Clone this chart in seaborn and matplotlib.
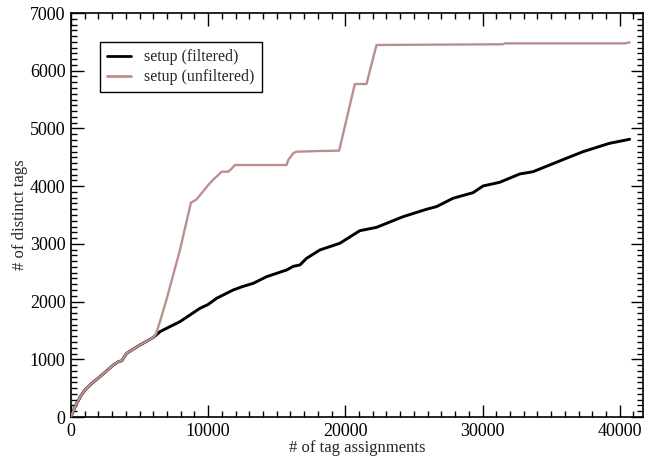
import numpy as np
import pandas as pd
import matplotlib
matplotlib.use("Agg")
import matplotlib.pyplot as plt
from matplotlib.ticker import MultipleLocator
import seaborn as sns

# ---- data ----
common_x = [0, 200, 415, 700, 1020, 1500, 2113, 2600, 3085, 3450, 3700, 3812, 4055,
            4500, 5030, 5500, 5998]
common_y = [0, 120, 233, 360, 468, 580, 698, 800, 901, 958, 975, 1016, 1103,
            1170, 1248, 1310, 1379]

filtered_tail_x = [6485, 6970, 7942, 8500, 9399, 10000, 10616, 11826, 12500, 13283,
                   14258, 15714, 16200, 16685, 17171, 18142, 19599, 21056, 22271,
                   24211, 25916, 26645, 27854, 29313, 30040, 31257, 32714, 33684,
                   36115, 37326, 39271, 40729]
filtered_tail_y = [1478, 1537, 1652, 1740, 1883, 1950, 2057, 2201, 2260, 2316,
                   2431, 2547, 2610, 2634, 2749, 2894, 3010, 3228, 3286,
                   3471, 3599, 3645, 3790, 3887, 4003, 4067, 4211, 4250,
                   4483, 4597, 4743, 4812]

unfiltered_tail_x = [6200, 6485, 6970, 7942, 8743, 9155, 9600, 10006, 10400, 10856,
                     10978, 11466, 11700, 11949, 15714, 15836, 16200, 16440, 18142,
                     19549, 20692, 21543, 22271, 31497, 31621, 40364, 40729]
unfiltered_tail_y = [1440, 1652, 2040, 2894, 3713, 3770, 3900, 4020, 4120, 4221,
                     4250, 4250, 4300, 4366, 4366, 4453, 4569, 4597, 4609,
                     4615, 5770, 5770, 6446, 6458, 6474, 6474, 6491]

series_names = ["setup (filtered)", "setup (unfiltered)"]
series_colors = ["#000000", "#bc8f8f"]

x_ticks = [0, 10000, 20000, 30000, 40000]
y_ticks = [0, 1000, 2000, 3000, 4000, 5000, 6000, 7000]

# ---- build table ----
fx = common_x + filtered_tail_x
fy = common_y + filtered_tail_y
ux = common_x + unfiltered_tail_x
uy = common_y + unfiltered_tail_y
df = pd.DataFrame({
    "x": fx + ux,
    "y": fy + uy,
    "series": [series_names[0]] * len(fx) + [series_names[1]] * len(ux),
})

sns.set_style("ticks")
plt.rcParams["font.family"] = ["Liberation Serif", "DejaVu Serif"]

fig = plt.figure(figsize=(6.49, 4.58), dpi=100)
ax = fig.add_axes([71 / 649, 1 - 417 / 458, (643 - 71) / 649, (417 - 13) / 458])

sns.lineplot(data=df[df.series == series_names[0]], x="x", y="y", color=series_colors[0],
             linewidth=2.1, sort=False, estimator=None, ax=ax, label=series_names[0], zorder=2)
sns.lineplot(data=df[df.series == series_names[1]], x="x", y="y", color=series_colors[1],
             linewidth=1.7, sort=False, estimator=None, ax=ax, label=series_names[1], zorder=3)

ax.set_xlim(0, 41700)
ax.set_ylim(0, 7000)
ax.set_xticks(x_ticks)
ax.set_yticks(y_ticks)
ax.xaxis.set_minor_locator(MultipleLocator(1000))
ax.yaxis.set_minor_locator(MultipleLocator(100))
ax.tick_params(which="both", direction="in", top=True, right=True, colors="black",
               labelsize=13, width=1)
ax.tick_params(which="major", length=9, pad=4)
ax.tick_params(which="minor", length=4.5)
for sp in ax.spines.values():
    sp.set_linewidth(1.2)
    sp.set_color("black")

ax.set_xlabel("# of tag assignments", fontsize=12, labelpad=0)
ax.set_ylabel("# of distinct tags", fontsize=12, labelpad=1)

handles, labels = ax.get_legend_handles_labels()
order = [labels.index(series_names[0]), labels.index(series_names[1])]
leg = ax.legend([handles[i] for i in order], [labels[i] for i in order],
                loc="upper left", bbox_to_anchor=(0.051, 0.928), fontsize=11.5,
                frameon=True, fancybox=False, edgecolor="black", framealpha=1,
                handlelength=1.5, handletextpad=0.8, borderpad=0.45, labelspacing=0.25,
                borderaxespad=0)
leg.get_frame().set_linewidth(1.0)
leg.legend_handles[0].set_linewidth(2.0)
leg.legend_handles[1].set_linewidth(2.0)

fig.savefig("out.png", dpi=100)
